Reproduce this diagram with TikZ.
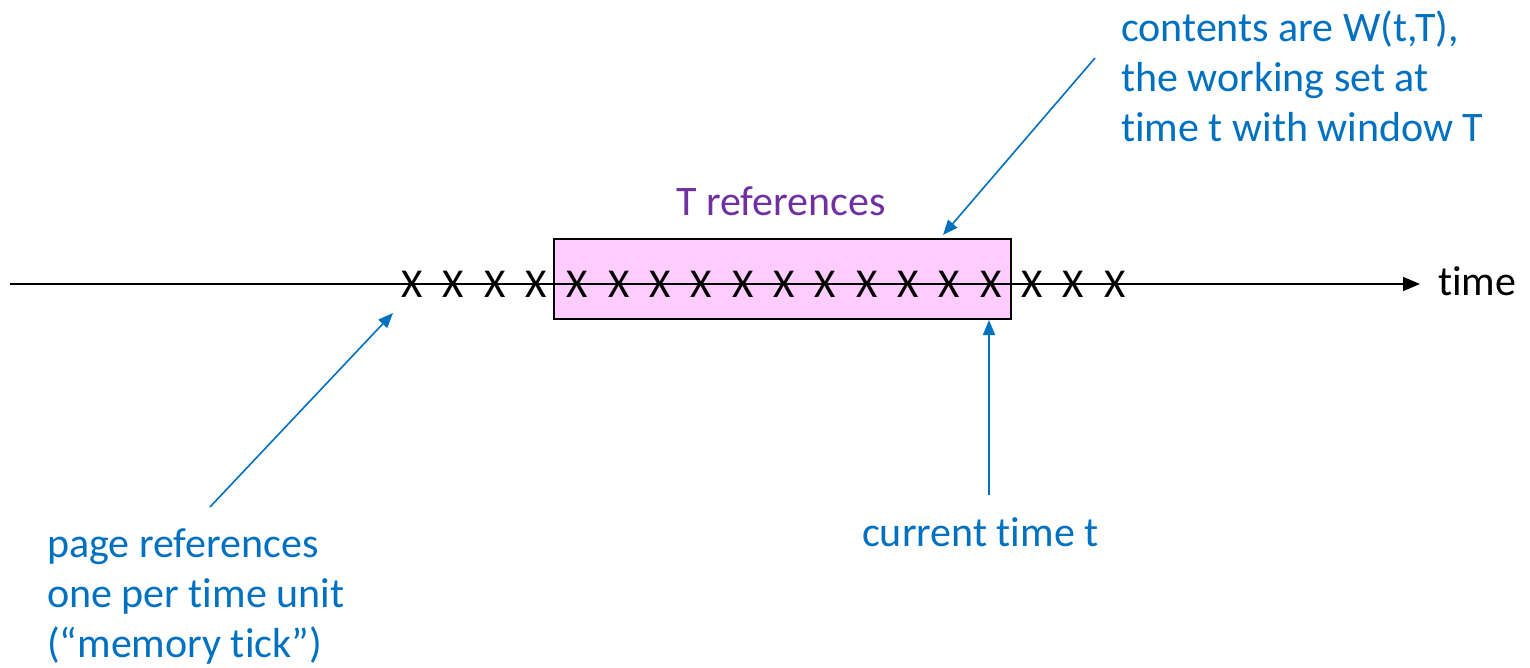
\documentclass[tikz,border=0pt]{standalone}
\usepackage{fontspec}
\setmainfont{Carlito}[Ligatures=NoCommon]
\usetikzlibrary{arrows.meta}
\definecolor{pblue}{HTML}{0070C0}
\definecolor{ppurple}{HTML}{7030A0}
\definecolor{ppink}{HTML}{FFCCFF}
\tikzset{
  lbl/.style={inner sep=0pt, font=\fontsize{42}{50}\selectfont},
  bluelbl/.style={lbl, text=pblue, align=left, anchor=base west},
  xmark/.style={inner sep=0pt, font=\fontsize{41}{50}\selectfont, anchor=base},
  pointer/.style={draw=pblue, line width=1.6pt, -{Triangle[length=15pt,width=12pt]}},
  axis/.style={draw=black, line width=1.6pt, -{Triangle[length=17pt,width=14pt]}},
  window/.style={draw=black, line width=1.6pt, fill=ppink}
}
\begin{document}
\begin{tikzpicture}[x=1pt,y=-1pt]
\useasboundingbox (0,0) rectangle (1530,668);
\node[window, minimum width=457pt, minimum height=80pt, anchor=north west, inner sep=0pt] (win) at (553,238) {};
\coordinate (axstart) at (10,284);
\coordinate (axend) at (1420,284);
\draw[axis] (axstart) -- (axend);
\foreach \i in {0,...,17} {
  \node[xmark] (x\i) at ({412+\i*41.35},297) {X};
}
\node[lbl, anchor=base west] (time) at (1438,295) {time};
\node[lbl, anchor=base, text=ppurple] (tref) at (781,216) {T references};
\node[bluelbl] (contents) at (1121,142) {contents are W(t,T),\\the working set at\\time t with window T};
\node[bluelbl] (cur) at (862,546) {current time t};
\node[bluelbl] (page) at (47,657) {page references\\one per time unit\\(“memory tick”)};
\coordinate (c1) at (1095,58);
\coordinate (c1e) at (943,235);
\coordinate (p1) at (210,507);
\coordinate (p1e) at (393,313);
\coordinate (t1) at (989,495);
\coordinate (t1e) at (989,320);
\draw[pointer] (c1) -- (c1e);
\draw[pointer] (p1) -- (p1e);
\draw[pointer] (t1) -- (t1e);
\end{tikzpicture}
\end{document}
